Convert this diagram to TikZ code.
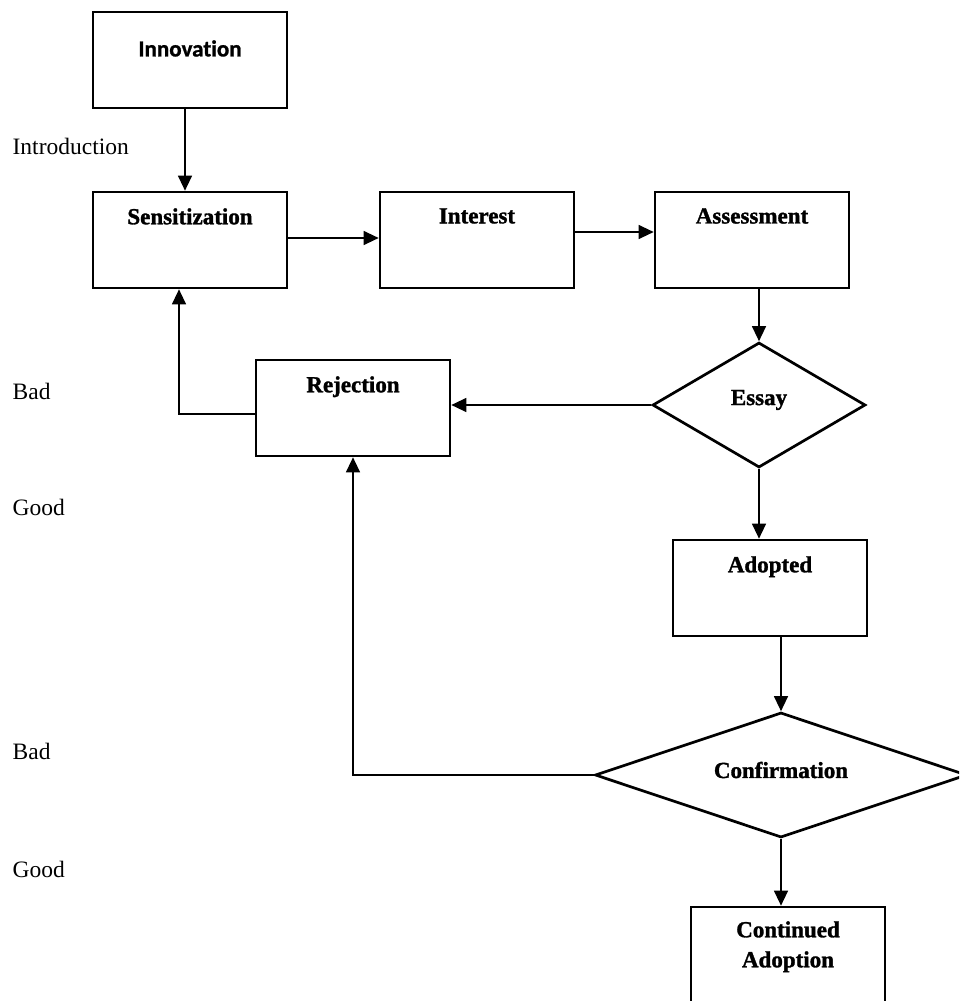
\documentclass[tikz,border=0pt]{standalone}
\usepackage{fontspec}
\setmainfont{Liberation Serif}
\newfontfamily\innovfont{Carlito}[Ligatures=NoCommon, FakeBold=1]
\newfontfamily\headfont{Liberation Serif Bold}[FakeBold=1.4]
\usetikzlibrary{positioning,shapes.geometric,arrows.meta}

\tikzset{
  box/.style={draw, line width=2.7pt, minimum width=194pt, minimum height=96pt, inner sep=0pt},
  decision/.style={draw, diamond, line width=2.7pt, inner sep=0pt, font=\fontsize{23}{30}\selectfont\headfont},
  title/.style={inner sep=0pt, align=center, font=\fontsize{23}{30}\selectfont\headfont},
  side/.style={inner sep=0pt, anchor=base west, font=\fontsize{23.5}{28}\selectfont},
}

\begin{document}
\begin{tikzpicture}[x=1pt, y=-1pt, line width=1.3pt, >={Triangle[length=15pt,width=14pt]}]
\useasboundingbox (0,0) rectangle (959,1001);
\clip (0,0) rectangle (959,1001);

% boxes
\node [box] (innov) at (190,60) {};
\node [box] (sens) at (190,240) {};
\node [box] (inter) at (477,240) {};
\node [box] (assess) at (752,240) {};
\node [box] (rej) at (353,408) {};
\node [box] (adopt) at (770,588) {};
\node [box] (cont) at (788,955) {};

\node [decision, aspect=1.7, minimum width=213pt, minimum height=125pt] (essay) at (759,405) {};
\node [decision, aspect=3, minimum width=372pt, minimum height=125pt] (confirm) at (781,775) {};

% titles
\node [title, font=\fontsize{23}{30}\selectfont\innovfont\bfseries, below=29pt of innov.north] (innovtxt) {Innovation};
\node [title, below=17pt of sens.north] (senstxt) {Sensitization};
\node [title, below=17pt of inter.north] (intertxt) {Interest};
\node [title, below=17pt of assess.north] (assesstxt) {Assessment};
\node [title, below=17pt of rej.north] (rejtxt) {Rejection};
\node [title, below=17pt of adopt.north] (adopttxt) {Adopted};
\node [title, below=15pt of cont.north] (conttxt) {Continued\\Adoption};
\node [title] (essaytxt) at (759,400) {Essay};
\node [title] (confirmtxt) at (781,770) {Confirmation};

% side labels
\node [side] (intro) at (12,154) {Introduction};
\node [side] (bad1) at (12,399) {Bad};
\node [side] (good1) at (12,515) {Good};
\node [side] (bad2) at (12,759) {Bad};
\node [side] (good2) at (12,877) {Good};

% arrows
\draw [->] ([xshift=-5pt]innov.south) -- ([xshift=-5pt]sens.north);
\draw [->] ([yshift=2pt]sens.east) -- ([yshift=2pt]inter.west);
\draw [->] ([yshift=8pt]inter.east) -- ([yshift=8pt]assess.west);
\draw [->] (assess.south -| essay.north) -- (essay.north);
\draw [->] (essay.west) -- (essay.west -| rej.east);
\draw [->] ([yshift=-6pt]rej.west) -| ([xshift=-11pt]sens.south);
\draw [->] (essay.south) -- (essay.south |- adopt.north);
\draw [->] (adopt.south -| confirm.north) -- (confirm.north);
\draw [->] (confirm.west) -| (rej.south);
\draw [->] (confirm.south) -- (confirm.south |- cont.north);
\end{tikzpicture}
\end{document}
